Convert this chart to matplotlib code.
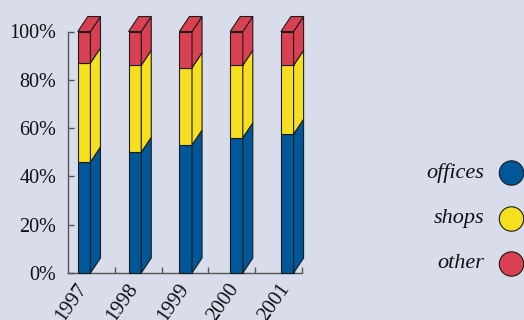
import matplotlib
matplotlib.use('Agg')
import matplotlib.pyplot as plt
from matplotlib.patches import Polygon, Circle

years = ['1997', '1998', '1999', '2000', '2001']
offices = [46, 50, 53, 56, 57.5]
shops = [41, 36, 32, 30, 28.5]
other = [13, 14, 15, 14, 14]

series = [('offices', offices, '#00579a'),
          ('shops', shops, '#f6df1f'),
          ('other', other, '#d94052')]

BG = '#d9dcea'
EDGE = '#1c1c1c'

plt.rcParams['font.family'] = ['Liberation Serif', 'DejaVu Serif']

W, H = 524, 320
fig = plt.figure(figsize=(W / 100, H / 100), dpi=100, facecolor=BG)
# axes box in pixel units: spine from x=68..302, y=31.5..273
ax = fig.add_axes([68 / W, (H - 273) / H, 234 / W, 241.5 / H])
ax.set_facecolor(BG)
ax.patch.set_alpha(0)
ax.set_xlim(0, 5)
ax.set_ylim(0, 100)

bar_w = 0.27
dx = 0.214   # depth of the 3d boxes, x units
dy = 6.2     # depth of the 3d boxes, percent units

for i, year in enumerate(years):
    x0 = 0.21 + i * 1.085
    x1 = x0 + bar_w
    base = 0
    for name, vals, col in series:
        top = base + vals[i]
        front = Polygon([(x0, base), (x1, base), (x1, top), (x0, top)],
                        closed=True, fc=col, ec=EDGE, lw=0.8, clip_on=False, zorder=3)
        side = Polygon([(x1, base), (x1 + dx, base + dy), (x1 + dx, top + dy), (x1, top)],
                       closed=True, fc=col, ec=EDGE, lw=0.8, clip_on=False, zorder=3)
        ax.add_patch(front)
        ax.add_patch(side)
        base = top
    lid = Polygon([(x0, base), (x0 + dx, base + dy), (x1 + dx, base + dy), (x1, base)],
                  closed=True, fc=series[-1][2], ec=EDGE, lw=0.8, clip_on=False, zorder=3)
    ax.add_patch(lid)
    ax.text(x0 - 0.05, -3.0, year, rotation=55, ha='right', va='top',
            rotation_mode='anchor', fontsize=15, color='#111111')

for s in ['top', 'right']:
    ax.spines[s].set_visible(False)
for s in ['left', 'bottom']:
    ax.spines[s].set_color('#555555')
    ax.spines[s].set_linewidth(1.0)

ax.set_yticks([0, 20, 40, 60, 80, 100])
ax.set_yticklabels(['0%', '20%', '40%', '60%', '80%', '100%'])
ax.set_xticks([1, 2, 3, 4, 5])
ax.set_xticklabels([])
ax.tick_params(axis='both', direction='in', length=4, width=1.0, color='#555555')
ax.tick_params(axis='y', labelsize=14.5, pad=8.5, labelcolor='#111111')

# legend on an overlay in pixel coordinates
lg = fig.add_axes([0, 0, 1, 1])
lg.set_xlim(0, W)
lg.set_ylim(H, 0)
lg.axis('off')
leg_y = [173, 219, 264]
for (name, vals, col), yy in zip(series, leg_y):
    lg.add_patch(Circle((511.5, yy), 12.2, fc=col, ec=EDGE, lw=0.8))
    lg.text(484, yy, name, ha='right', va='center', fontsize=16,
            style='italic', color='#111111')

fig.savefig('out.png', dpi=100, facecolor=BG)
